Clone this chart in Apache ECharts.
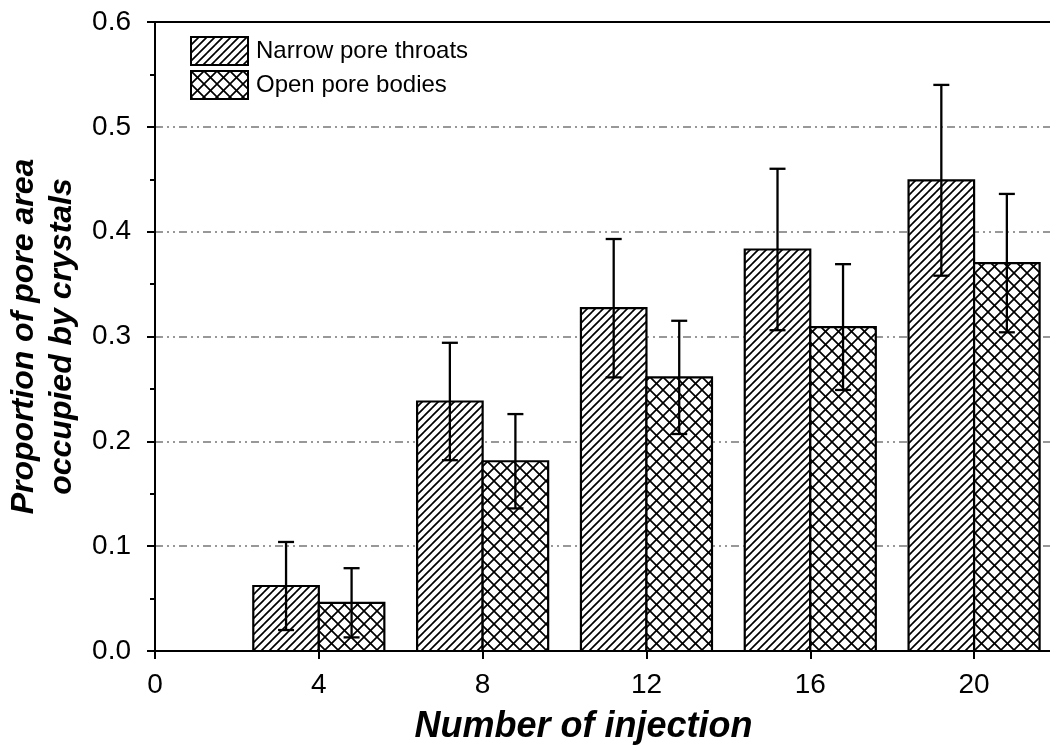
<!DOCTYPE html>
<html>
<head>
<meta charset="utf-8">
<script src="https://cdn.jsdelivr.net/npm/echarts@6/dist/echarts.min.js"></script>
<style>
  html, body { margin: 0; padding: 0; background: #fff; }
  #chart { width: 1050px; height: 745px; }
</style>
</head>
<body>
<div id="chart"></div>
<script>
// Injection counts (x positions of the bar groups)
const injections = [4, 8, 12, 16, 20];
// Proportion of pore area occupied by crystals, with standard deviations
const narrowThroats = [0.062, 0.238, 0.327, 0.383, 0.449];
const narrowThroatsErr = [0.042, 0.056, 0.066, 0.077, 0.091];
const openBodies = [0.046, 0.181, 0.261, 0.309, 0.370];
const openBodiesErr = [0.033, 0.045, 0.054, 0.060, 0.066];
const seriesNames = ['Narrow pore throats', 'Open pore bodies'];
const xTicks = [0, 4, 8, 12, 16, 20];

const FONT = '"Liberation Sans", Arial, Helvetica, sans-serif';
const BAR_W = 1.6; // bar width in x-axis units

// Hatch patterns drawn on small tiles
function makeTile(size, draw) {
  const c = document.createElement('canvas');
  c.width = size; c.height = size;
  const ctx = c.getContext('2d');
  ctx.fillStyle = '#fff';
  ctx.fillRect(0, 0, size, size);
  ctx.strokeStyle = '#000';
  ctx.lineWidth = 1.7;
  ctx.lineCap = 'square';
  draw(ctx, size);
  return c;
}
function forwardLines(ctx, s) {
  ctx.beginPath();
  for (let k = -1; k <= 1; k++) {
    ctx.moveTo(k * s, s);
    ctx.lineTo(k * s + s, 0);
  }
  ctx.stroke();
}
function backLines(ctx, s) {
  ctx.beginPath();
  for (let k = -1; k <= 1; k++) {
    ctx.moveTo(k * s, 0);
    ctx.lineTo(k * s + s, s);
  }
  ctx.stroke();
}
const diagPattern = { image: makeTile(8, forwardLines), repeat: 'repeat' };
const crossPattern = { image: makeTile(13, (ctx, s) => { forwardLines(ctx, s); backLines(ctx, s); }), repeat: 'repeat' };

function barSeries(name, values, side, pattern) {
  return {
    name: name,
    type: 'custom',
    z: 2,
    itemStyle: { color: pattern, borderColor: '#000', borderWidth: 2 },
    data: injections.map((x, i) => [x, values[i]]),
    renderItem: function (params, api) {
      const x = api.value(0), v = api.value(1);
      const x0 = side < 0 ? x - BAR_W : x;
      const x1 = side < 0 ? x : x + BAR_W;
      const p0 = api.coord([x0, v]);
      const p1 = api.coord([x1, 0]);
      return {
        type: 'rect',
        shape: { x: p0[0], y: p0[1], width: p1[0] - p0[0], height: p1[1] - p0[1] },
        style: { fill: pattern, stroke: '#000', lineWidth: 2.2 }
      };
    }
  };
}

function errSeries(name, values, errs, side) {
  return {
    name: name,
    type: 'custom',
    z: 3,
    silent: true,
    data: injections.map((x, i) => [x + side * BAR_W / 2, values[i] - errs[i], values[i] + errs[i]]),
    renderItem: function (params, api) {
      const lo = api.coord([api.value(0), api.value(1)]);
      const hi = api.coord([api.value(0), api.value(2)]);
      const half = 8;
      const st = { stroke: '#000', lineWidth: 2.3, fill: null };
      return {
        type: 'group',
        children: [
          { type: 'line', shape: { x1: lo[0], y1: lo[1], x2: hi[0], y2: hi[1] }, style: st },
          { type: 'line', shape: { x1: hi[0] - half, y1: hi[1], x2: hi[0] + half, y2: hi[1] }, style: st },
          { type: 'line', shape: { x1: lo[0] - half, y1: lo[1], x2: lo[0] + half, y2: lo[1] }, style: st }
        ]
      };
    }
  };
}

const chart = echarts.init(document.getElementById('chart'), null, { renderer: 'canvas' });
chart.setOption({
  animation: false,
  backgroundColor: '#fff',
  textStyle: { fontFamily: FONT },
  grid: { left: 155, width: 901, top: 22, bottom: 94, containLabel: false, outerBoundsMode: 'none' },
  legend: {
    orient: 'vertical',
    left: 190, top: 36,
    padding: 0,
    itemWidth: 57, itemHeight: 28,
    itemGap: 4,
    icon: 'rect',
    selectedMode: false,
    data: [
      { name: seriesNames[0], itemStyle: { color: diagPattern, borderColor: '#000', borderWidth: 2 } },
      { name: seriesNames[1], itemStyle: { color: crossPattern, borderColor: '#000', borderWidth: 2 } }
    ],
    textStyle: { fontFamily: FONT, fontSize: 24, color: '#000', padding: [0, 0, 0, 3] }
  },
  xAxis: [{
    type: 'value',
    min: 0, max: 22, interval: 4,
    name: 'Number of injection',
    nameLocation: 'middle',
    nameGap: 58,
    nameTextStyle: { fontFamily: FONT, fontSize: 36, fontWeight: 'bold', fontStyle: 'italic', color: '#000', padding: [0, 44, 0, 0] },
    axisLine: { lineStyle: { color: '#000', width: 2 } },
    axisTick: { length: 8, lineStyle: { color: '#000', width: 2 } },
    axisLabel: {
      fontFamily: FONT, fontSize: 28, color: '#000', margin: 20,
      formatter: v => (xTicks.indexOf(v) >= 0 ? String(v) : '')
    },
    splitLine: { show: false }
  }, {
    type: 'value',
    position: 'top',
    min: 0, max: 22,
    axisLine: { show: true, lineStyle: { color: '#000', width: 2 } },
    axisTick: { show: false },
    axisLabel: { show: false },
    splitLine: { show: false }
  }],
  yAxis: {
    type: 'value',
    min: 0, max: 0.6, interval: 0.1,
    name: 'Proportion of pore area\noccupied by crystals',
    nameLocation: 'middle',
    nameGap: 72,
    nameTextStyle: { fontFamily: FONT, fontSize: 32, fontWeight: 'bold', fontStyle: 'italic', color: '#000', lineHeight: 38 },
    axisLine: { show: true, lineStyle: { color: '#000', width: 2 } },
    axisTick: { length: 8, lineStyle: { color: '#000', width: 2 } },
    minorTick: { show: true, splitNumber: 2, length: 5, lineStyle: { color: '#000', width: 2 } },
    axisLabel: { fontFamily: FONT, fontSize: 28, color: '#000', margin: 24, formatter: v => v.toFixed(1) },
    splitLine: { show: true, lineStyle: { color: '#777', width: 1.6, type: [8, 4, 2, 4, 2, 4] } }
  },
  series: [
    barSeries(seriesNames[0], narrowThroats, -1, diagPattern),
    barSeries(seriesNames[1], openBodies, 1, crossPattern),
    errSeries('narrowErr', narrowThroats, narrowThroatsErr, -1),
    errSeries('openErr', openBodies, openBodiesErr, 1)
  ]
});
</script>
</body>
</html>
